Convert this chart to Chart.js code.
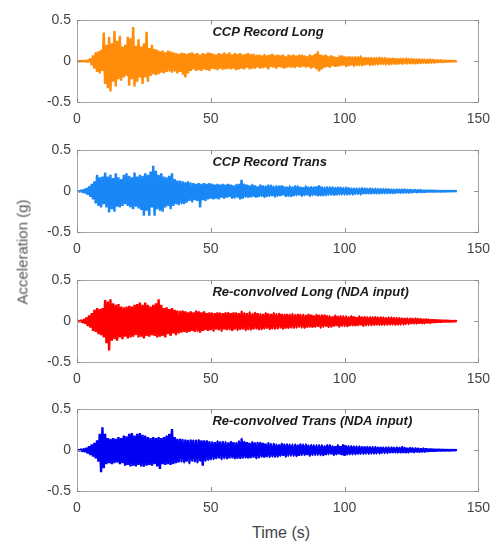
<!DOCTYPE html>
<html><head><meta charset="utf-8">
<script src="https://cdn.jsdelivr.net/npm/chart.js@4"></script>
<style>
html,body{margin:0;padding:0;background:#fff;width:499px;height:545px;overflow:hidden;}
.pc{position:absolute;left:0;width:499px;height:120px;}
.pc canvas{display:block;}
#ylab{position:absolute;left:22px;top:252px;transform:translate(-50%,-50%) rotate(-90deg);font-family:"Liberation Sans",Arial,sans-serif;font-size:15px;font-weight:normal;color:#555;white-space:nowrap;}
#xlab{position:absolute;left:281px;top:533px;transform:translate(-50%,-50%);font-family:"Liberation Sans",Arial,sans-serif;font-size:16px;font-weight:normal;color:#444;white-space:nowrap;}
</style></head><body>
<div class="pc" style="top:6px"><canvas id="c0" width="499" height="120"></canvas></div>
<div class="pc" style="top:136px"><canvas id="c1" width="499" height="120"></canvas></div>
<div class="pc" style="top:266px"><canvas id="c2" width="499" height="120"></canvas></div>
<div class="pc" style="top:395px"><canvas id="c3" width="499" height="120"></canvas></div>
<div id="ylab">Acceleration (g)</div>
<div id="xlab">Time (s)</div>
<script>
const sampleStep = 0.5; // s
const xTicks = [0, 50, 100, 150];
const yTicks = [-0.5, 0, 0.5];
const titles = ["CCP Record Long", "CCP Record Trans", "Re-convolved Long (NDA input)", "Re-convolved Trans (NDA input)"];
const colors = ["rgb(255,140,10)", "rgb(25,135,245)", "rgb(255,0,0)", "rgb(0,0,245)"];

const ccpLong = [
0,0.002,-0.003,0.004,-0.004,0.005,-0.006,0.008,-0.01,0.012,
0.03,-0.05,0.07,-0.09,0.11,-0.13,0.12,-0.15,0.14,-0.12,
0.35,-0.28,0.2,-0.33,0.3,-0.37,0.22,-0.25,0.37,-0.31,
0.25,-0.22,0.31,-0.24,0.18,-0.2,0.2,-0.18,0.3,-0.3,
0.28,-0.22,0.42,-0.31,0.19,-0.25,0.27,-0.2,0.18,-0.28,
0.22,-0.2,0.36,-0.25,0.16,-0.18,0.2,-0.16,0.15,-0.17,
0.14,-0.16,0.12,-0.14,0.13,-0.15,0.11,-0.13,0.12,-0.12,
0.12,-0.14,0.1,-0.12,0.1,-0.15,0.09,-0.13,0.1,-0.16,
0.1,-0.2,0.09,-0.15,0.1,-0.12,0.11,-0.1,0.09,-0.12,
0.1,-0.11,0.08,-0.12,0.1,-0.1,0.09,-0.11,0.11,-0.12,
0.1,-0.09,0.09,-0.1,0.08,-0.11,0.1,-0.09,0.09,-0.1,
0.1,-0.1,0.09,-0.09,0.11,-0.1,0.08,-0.09,0.1,-0.11,
0.09,-0.1,0.1,-0.09,0.08,-0.1,0.09,-0.08,0.1,-0.09,
0.08,-0.09,0.09,-0.08,0.07,-0.08,0.08,-0.09,0.07,-0.08,
0.08,-0.08,0.07,-0.1,0.08,-0.07,0.09,-0.08,0.07,-0.09,
0.08,-0.07,0.07,-0.08,0.08,-0.09,0.06,-0.08,0.07,-0.07,
0.07,-0.08,0.08,-0.07,0.06,-0.07,0.08,-0.08,0.07,-0.06,
0.07,-0.08,0.06,-0.07,0.08,-0.09,0.07,-0.08,0.09,-0.1,
0.12,-0.125,0.08,-0.1,0.07,-0.08,0.08,-0.07,0.06,-0.08,
0.07,-0.06,0.06,-0.07,0.05,-0.06,0.06,-0.06,0.07,-0.05,
0.06,-0.06,0.05,-0.06,0.06,-0.05,0.05,-0.06,0.05,-0.05,
0.05,-0.05,0.06,-0.05,0.04,-0.05,0.05,-0.04,0.04,-0.05,
0.04,-0.045,0.045,-0.04,0.04,-0.04,0.045,-0.04,0.04,-0.035,
0.04,-0.04,0.035,-0.04,0.04,-0.035,0.035,-0.04,0.03,-0.035,
0.035,-0.03,0.03,-0.035,0.03,-0.03,0.035,-0.03,0.03,-0.03,
0.03,-0.03,0.025,-0.03,0.03,-0.025,0.025,-0.025,0.025,-0.02,
0.02,-0.025,0.02,-0.02,0.02,-0.02,0.018,-0.02,0.018,-0.015,
0.015,-0.015,0.012,-0.014,0.012,-0.012,0.01,-0.01,0.008,-0.008,
0.006,-0.005,0.004,-0.003,0.002];

const ccpTrans = [
0,0.003,-0.005,0.008,-0.012,0.018,-0.025,0.035,-0.045,0.06,
-0.07,0.09,-0.1,0.12,-0.15,0.2,-0.18,0.17,-0.2,0.18,
-0.16,0.23,-0.2,0.18,-0.26,0.2,-0.22,0.16,-0.25,0.22,
-0.19,0.17,-0.2,0.15,-0.18,0.2,-0.16,0.22,-0.18,0.19,
-0.2,0.17,-0.22,0.23,-0.19,0.18,-0.21,0.2,-0.23,0.19,
-0.3,0.22,-0.24,0.2,-0.3,0.24,-0.2,0.31,-0.3,0.25,
-0.22,0.2,-0.24,0.22,-0.25,0.18,-0.2,0.17,-0.18,0.19,
-0.22,0.22,-0.18,0.15,-0.16,0.13,-0.17,0.12,-0.15,0.12,
-0.16,0.11,-0.14,0.12,-0.12,0.1,-0.13,0.1,-0.11,0.09,
-0.12,0.1,-0.2,0.09,-0.11,0.1,-0.12,0.09,-0.1,0.1,
-0.09,0.09,-0.1,0.08,-0.09,0.09,-0.1,0.08,-0.08,0.09,
-0.09,0.08,-0.08,0.09,-0.07,0.08,-0.09,0.07,-0.08,0.08,
-0.08,0.09,-0.1,0.14,-0.09,0.08,-0.07,0.08,-0.08,0.07,
-0.07,0.08,-0.07,0.07,-0.08,0.06,-0.07,0.07,-0.06,0.07,
-0.07,0.06,-0.07,0.07,-0.06,0.07,-0.06,0.06,-0.07,0.06,
-0.06,0.06,-0.06,0.07,-0.05,0.06,-0.06,0.05,-0.06,0.06,
-0.06,0.05,-0.06,0.06,-0.05,0.06,-0.05,0.05,-0.06,0.05,
-0.05,0.06,-0.05,0.05,-0.06,0.05,-0.05,0.05,-0.05,0.06,
-0.06,0.07,-0.05,0.05,-0.05,0.045,-0.05,0.05,-0.045,0.05,
-0.045,0.05,-0.045,0.04,-0.05,0.045,-0.04,0.045,-0.04,0.04,
-0.04,0.045,-0.04,0.04,-0.04,0.035,-0.04,0.04,-0.035,0.035,
-0.035,0.035,-0.04,0.035,-0.03,0.035,-0.035,0.03,-0.03,0.035,
-0.03,0.03,-0.03,0.03,-0.03,0.028,-0.03,0.028,-0.025,0.028,
-0.025,0.028,-0.025,0.025,-0.025,0.022,-0.025,0.025,-0.022,0.022,
-0.022,0.02,-0.02,0.022,-0.02,0.02,-0.02,0.018,-0.02,0.018,
-0.018,0.018,-0.016,0.016,-0.015,0.016,-0.015,0.014,-0.014,0.014,
-0.013,0.013,-0.012,0.012,-0.011,0.011,-0.01,0.01,-0.009,0.009,
-0.008,0.008,-0.007,0.007,-0.006,0.006,-0.005,0.005,-0.004,0.004,
-0.003,0.003,-0.002,0.002,-0.001];

const reconvLong = [
0,0.004,-0.006,0.01,-0.015,0.02,-0.03,0.045,-0.06,0.07,
-0.08,0.1,-0.12,0.14,-0.13,0.16,-0.16,0.15,-0.17,0.16,
-0.2,0.26,-0.27,0.24,-0.36,0.27,-0.24,0.22,-0.22,0.2,
-0.24,0.21,-0.2,0.18,-0.22,0.17,-0.19,0.18,-0.21,0.19,
-0.2,0.18,-0.19,0.2,-0.17,0.21,-0.2,0.23,-0.19,0.2,
-0.21,0.23,-0.18,0.2,-0.19,0.18,-0.17,0.2,-0.18,0.22,
-0.2,0.27,-0.19,0.2,-0.18,0.16,-0.2,0.17,-0.16,0.15,
-0.18,0.16,-0.15,0.14,-0.17,0.13,-0.14,0.12,-0.14,0.13,
-0.13,0.12,-0.14,0.11,-0.13,0.12,-0.12,0.11,-0.13,0.12,
-0.12,0.12,-0.14,0.11,-0.12,0.12,-0.11,0.1,-0.12,0.11,
-0.11,0.1,-0.12,0.1,-0.1,0.11,-0.11,0.1,-0.12,0.1,
-0.1,0.11,-0.11,0.1,-0.1,0.1,-0.12,0.11,-0.1,0.1,
-0.11,0.1,-0.1,0.12,-0.1,0.1,-0.11,0.1,-0.1,0.11,
-0.1,0.09,-0.1,0.1,-0.09,0.1,-0.1,0.09,-0.1,0.09,
-0.09,0.1,-0.09,0.09,-0.1,0.09,-0.09,0.1,-0.09,0.09,
-0.09,0.09,-0.08,0.09,-0.09,0.08,-0.09,0.09,-0.08,0.08,
-0.08,0.09,-0.08,0.08,-0.08,0.08,-0.07,0.08,-0.08,0.08,
-0.08,0.07,-0.08,0.08,-0.07,0.08,-0.08,0.07,-0.07,0.08,
-0.07,0.07,-0.08,0.07,-0.07,0.07,-0.06,0.07,-0.07,0.06,
-0.07,0.06,-0.06,0.07,-0.06,0.06,-0.07,0.06,-0.06,0.06,
-0.06,0.06,-0.06,0.05,-0.06,0.06,-0.05,0.06,-0.06,0.05,
-0.05,0.06,-0.05,0.05,-0.06,0.05,-0.05,0.05,-0.05,0.05,
-0.05,0.05,-0.045,0.05,-0.05,0.045,-0.045,0.05,-0.045,0.045,
-0.045,0.04,-0.045,0.045,-0.04,0.045,-0.04,0.04,-0.045,0.04,
-0.04,0.04,-0.04,0.035,-0.04,0.04,-0.035,0.035,-0.035,0.035,
-0.035,0.03,-0.03,0.035,-0.03,0.03,-0.03,0.028,-0.028,0.028,
-0.025,0.025,-0.025,0.022,-0.022,0.022,-0.02,0.02,-0.018,0.018,
-0.016,0.016,-0.014,0.014,-0.012,0.012,-0.01,0.01,-0.008,0.007,
-0.006,0.005,-0.004,0.003,-0.002];

const reconvTrans = [
0,0.003,-0.005,0.008,-0.012,0.016,-0.022,0.03,-0.04,0.05,
-0.06,0.07,-0.08,0.09,-0.1,0.12,-0.14,0.2,-0.27,0.28,
-0.22,0.2,-0.17,0.15,-0.16,0.14,-0.17,0.15,-0.16,0.14,
-0.15,0.16,-0.17,0.15,-0.16,0.18,-0.19,0.17,-0.18,0.2,
-0.2,0.21,-0.19,0.18,-0.2,0.2,-0.18,0.21,-0.2,0.19,
-0.19,0.17,-0.19,0.16,-0.18,0.15,-0.19,0.16,-0.17,0.15,
-0.2,0.16,-0.23,0.15,-0.17,0.16,-0.18,0.18,-0.17,0.2,
-0.18,0.26,-0.17,0.16,-0.16,0.14,-0.15,0.13,-0.14,0.13,
-0.15,0.13,-0.14,0.12,-0.16,0.12,-0.13,0.12,-0.14,0.12,
-0.15,0.12,-0.13,0.12,-0.19,0.11,-0.13,0.11,-0.12,0.11,
-0.11,0.1,-0.11,0.1,-0.1,0.11,-0.1,0.1,-0.11,0.1,
-0.1,0.1,-0.1,0.09,-0.1,0.1,-0.09,0.1,-0.1,0.09,
-0.1,0.11,-0.1,0.14,-0.1,0.1,-0.09,0.1,-0.1,0.09,
-0.09,0.1,-0.09,0.09,-0.1,0.09,-0.09,0.09,-0.08,0.09,
-0.09,0.08,-0.08,0.09,-0.08,0.08,-0.08,0.08,-0.08,0.07,
-0.08,0.07,-0.07,0.08,-0.07,0.07,-0.08,0.07,-0.07,0.07,
-0.07,0.07,-0.07,0.07,-0.07,0.06,-0.07,0.07,-0.06,0.07,
-0.06,0.07,-0.06,0.06,-0.07,0.06,-0.06,0.06,-0.06,0.06,
-0.06,0.06,-0.06,0.06,-0.06,0.05,-0.06,0.06,-0.05,0.06,
-0.05,0.05,-0.06,0.05,-0.05,0.06,-0.05,0.05,-0.06,0.07,
-0.07,0.06,-0.05,0.05,-0.05,0.05,-0.05,0.045,-0.05,0.045,
-0.045,0.045,-0.045,0.04,-0.045,0.045,-0.04,0.04,-0.045,0.04,
-0.04,0.04,-0.04,0.04,-0.04,0.035,-0.04,0.04,-0.035,0.035,
-0.035,0.035,-0.035,0.035,-0.03,0.035,-0.035,0.03,-0.03,0.035,
-0.03,0.03,-0.03,0.04,-0.035,0.03,-0.03,0.03,-0.028,0.028,
-0.028,0.025,-0.025,0.025,-0.025,0.022,-0.022,0.022,-0.02,0.02,
-0.02,0.02,-0.018,0.018,-0.016,0.016,-0.015,0.015,-0.014,0.013,
-0.012,0.012,-0.011,0.01,-0.009,0.009,-0.008,0.007,-0.006,0.006,
-0.005,0.004,-0.003,0.002,-0.001];

const series = [ccpLong, ccpTrans, reconvLong, reconvTrans];

const boxPlugin = {
  id: 'box',
  afterDatasetsDraw(chart, args, opts) {
    const {ctx, chartArea: a, scales} = chart;
    ctx.save();
    ctx.strokeStyle = '#a6a6a6';
    ctx.lineWidth = 1;
    ctx.strokeRect(Math.round(a.left) + 0.5, Math.round(a.top) + 0.5, Math.round(a.right - a.left), Math.round(a.bottom - a.top));
    ctx.strokeStyle = '#8a8a8a';
    ctx.beginPath();
    xTicks.forEach(v => {
      const x = Math.round(scales.x.getPixelForValue(v)) + 0.5;
      ctx.moveTo(x, a.bottom); ctx.lineTo(x, a.bottom - 4);
      ctx.moveTo(x, a.top); ctx.lineTo(x, a.top + 4);
    });
    yTicks.forEach(v => {
      const y = Math.round(scales.y.getPixelForValue(v)) + 0.5;
      ctx.moveTo(a.left, y); ctx.lineTo(a.left + 4, y);
      ctx.moveTo(a.right, y); ctx.lineTo(a.right - 4, y);
    });
    ctx.stroke();
    ctx.fillStyle = '#1a1a1a';
    ctx.font = 'italic bold 13px "Liberation Sans", Arial, sans-serif';
    ctx.textAlign = 'left';
    ctx.textBaseline = 'middle';
    ctx.fillText(opts.text, scales.x.getPixelForValue(50.6), a.top + 12);
    ctx.restore();
  }
};

series.forEach((vals, i) => {
  const pts = vals.map((v, k) => ({x: k * sampleStep, y: v}));
  new Chart(document.getElementById('c' + i), {
    type: 'line',
    data: { datasets: [{ data: pts, borderColor: colors[i], backgroundColor: colors[i], borderWidth: 2.4, borderJoinStyle: 'bevel', pointRadius: 0, tension: 0.0001, cubicInterpolationMode: 'default', fill: 'origin' }] },
    options: {
      responsive: false, animation: false, maintainAspectRatio: false, devicePixelRatio: 1,
      layout: { padding: { top: 8, right: 18, left: 0, bottom: 0 } },
      plugins: { legend: { display: false }, tooltip: { enabled: false }, filler: { propagate: false }, box: { text: titles[i] } },
      scales: {
        x: {
          type: 'linear', min: 0, max: 150,
          afterBuildTicks: s => { s.ticks = xTicks.map(v => ({value: v})); },
          afterFit: s => { s.height = 24; },
          grid: { display: false, drawTicks: false },
          border: { display: false },
          ticks: { color: '#444', font: { family: '"Liberation Sans", Arial, sans-serif', size: 14 }, padding: 9, maxRotation: 0 }
        },
        y: {
          type: 'linear', min: -0.5, max: 0.5,
          afterBuildTicks: s => { s.ticks = yTicks.map(v => ({value: v})); },
          afterFit: s => { s.width = 77; },
          grid: { display: false, drawTicks: false },
          border: { display: false },
          ticks: { color: '#444', font: { family: '"Liberation Sans", Arial, sans-serif', size: 14 }, padding: 6,
            callback: v => String(v) }
        }
      }
    },
    plugins: [boxPlugin]
  });
});
</script>
</body></html>
